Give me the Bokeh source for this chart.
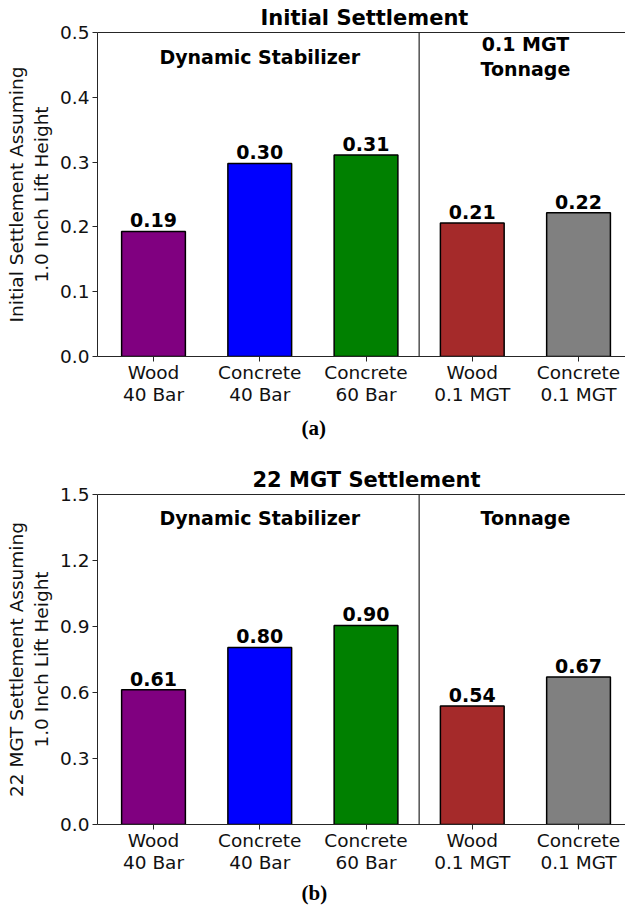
from bokeh.plotting import figure
from bokeh.models import (Range1d, FixedTicker, LinearAxis, Span, Title,
                          ColumnDataSource, NumeralTickFormatter)
from bokeh.layouts import column
from bokeh.embed import file_html
from bokeh.resources import INLINE
from bokeh.core.properties import value

# ---------------- data ----------------
categories = ["Wood\n40 Bar", "Concrete\n40 Bar", "Concrete\n60 Bar",
              "Wood\n0.1 MGT", "Concrete\n0.1 MGT"]
colors = ["#800080", "#0000ff", "#008000", "#a52a2a", "#808080"]

initial_values = [0.193, 0.298, 0.311, 0.206, 0.222]
initial_labels = ["0.19", "0.30", "0.31", "0.21", "0.22"]
initial_ticks = [0.0, 0.1, 0.2, 0.3, 0.4, 0.5]
initial_groups = ["Dynamic Stabilizer", "0.1 MGT\nTonnage"]

mgt22_values = [0.612, 0.805, 0.905, 0.539, 0.670]
mgt22_labels = ["0.61", "0.80", "0.90", "0.54", "0.67"]
mgt22_ticks = [0.0, 0.3, 0.6, 0.9, 1.2, 1.5]
mgt22_groups = ["Dynamic Stabilizer", "Tonnage"]

# group spans (category index ranges)
group_members = [[0, 1, 2], [3, 4]]

FONT = "DejaVu Sans"
AXC = "#262626"


def make_panel(vals, labels, ticks, groups, title, ylabel, caption,
               height, top_border, bottom_border, title_offset, cap_standoff,
               group_offset):
    xs = list(range(len(categories)))
    p = figure(width=625, height=height, output_backend="svg",
               toolbar_location=None,
               x_range=Range1d(-0.527, 4.442),
               y_range=Range1d(ticks[0], ticks[-1]),
               min_border_left=97, min_border_right=0,
               min_border_top=top_border, min_border_bottom=bottom_border)
    p.title = None
    p.grid.visible = False
    p.outline_line_color = None
    p.background_fill_color = "white"
    p.border_fill_color = "white"

    src = ColumnDataSource(dict(x=xs, top=vals, color=colors, lab=labels))
    p.vbar(x="x", top="top", bottom=0, width=0.6, fill_color="color",
           line_color="black", line_width=1.5, source=src)
    p.text(x="x", y="top", text="lab", source=src, text_align="center",
           text_baseline="bottom", y_offset=-4,
           text_font=value(FONT), text_font_style="bold",
           text_font_size="19px", text_color="black")

    # divider between groups
    div_x = (group_members[0][-1] + group_members[1][0]) / 2
    p.add_layout(Span(location=div_x, dimension="height",
                      line_color=AXC, line_width=1.2))

    # group labels
    gx = [sum(m) / len(m) for m in group_members]
    gsrc = ColumnDataSource(dict(x=gx, y=[ticks[-1]] * 2, t=groups))
    p.text(x="x", y="y", text="t", source=gsrc, text_align="center",
           text_baseline="middle", y_offset=group_offset,
           text_line_height=1.15,
           text_font=value(FONT), text_font_style="bold",
           text_font_size="19px", text_color="black")

    # axes
    xa = p.xaxis[0]
    xa.ticker = FixedTicker(ticks=xs)
    xa.major_label_overrides = {i: c for i, c in enumerate(categories)}
    xa.major_label_text_font = FONT
    xa.major_label_text_font_size = "18.5px"
    xa.major_label_text_line_height = 1.05
    xa.major_label_text_color = "#111"
    xa.major_label_standoff = 0
    xa.major_tick_out = 5
    xa.major_tick_in = 0
    xa.minor_tick_line_color = None
    xa.axis_line_color = AXC
    xa.major_tick_line_color = AXC

    ya = p.yaxis[0]
    ya.ticker = FixedTicker(ticks=ticks)
    ya.formatter = NumeralTickFormatter(format="0.0")
    ya.major_label_text_font = FONT
    ya.major_label_text_font_size = "18.5px"
    ya.major_label_text_color = "#111"
    ya.major_label_standoff = 3
    ya.major_tick_out = 5
    ya.major_tick_in = 0
    ya.minor_tick_line_color = None
    ya.axis_line_color = AXC
    ya.major_tick_line_color = AXC
    ya.axis_label = ylabel
    ya.axis_label_text_font = FONT
    ya.axis_label_text_font_style = "normal"
    ya.axis_label_text_font_size = "18.5px"
    ya.axis_label_text_color = "#111"
    ya.axis_label_standoff = 5

    # top frame line
    ta = LinearAxis(ticker=FixedTicker(ticks=[]), axis_line_color=AXC,
                    major_tick_line_color=None, minor_tick_line_color=None,
                    major_label_text_font_size="0px", major_label_standoff=0,
                    major_tick_out=0, major_tick_in=0)
    p.add_layout(ta, "above")

    # main title
    p.add_layout(Title(text=title, align="left", offset=title_offset,
                       text_font=FONT, text_font_style="bold",
                       text_font_size="21px", text_color="black",
                       standoff=5), "above")
    # caption below
    p.add_layout(Title(text=caption, align="left", offset=204,
                       text_font="Liberation Serif", text_font_style="bold",
                       text_font_size="21px", text_color="black",
                       standoff=cap_standoff), "below")
    return p


pa = make_panel(initial_values, initial_labels, initial_ticks, initial_groups,
                "Initial Settlement",
                "Initial Settlement Assuming\n1.0 Inch Lift Height",
                "(a)", 450, 32, 94, 163, 12, 24)
pb = make_panel(mgt22_values, mgt22_labels, mgt22_ticks, mgt22_groups,
                "22 MGT Settlement",
                "22 MGT Settlement Assuming\n1.0 Inch Lift Height",
                "(b)", 458, 44, 83, 155, 7, 23)

layout = column(pa, pb, spacing=0)
open("out.html", "w").write(file_html(layout, INLINE))
